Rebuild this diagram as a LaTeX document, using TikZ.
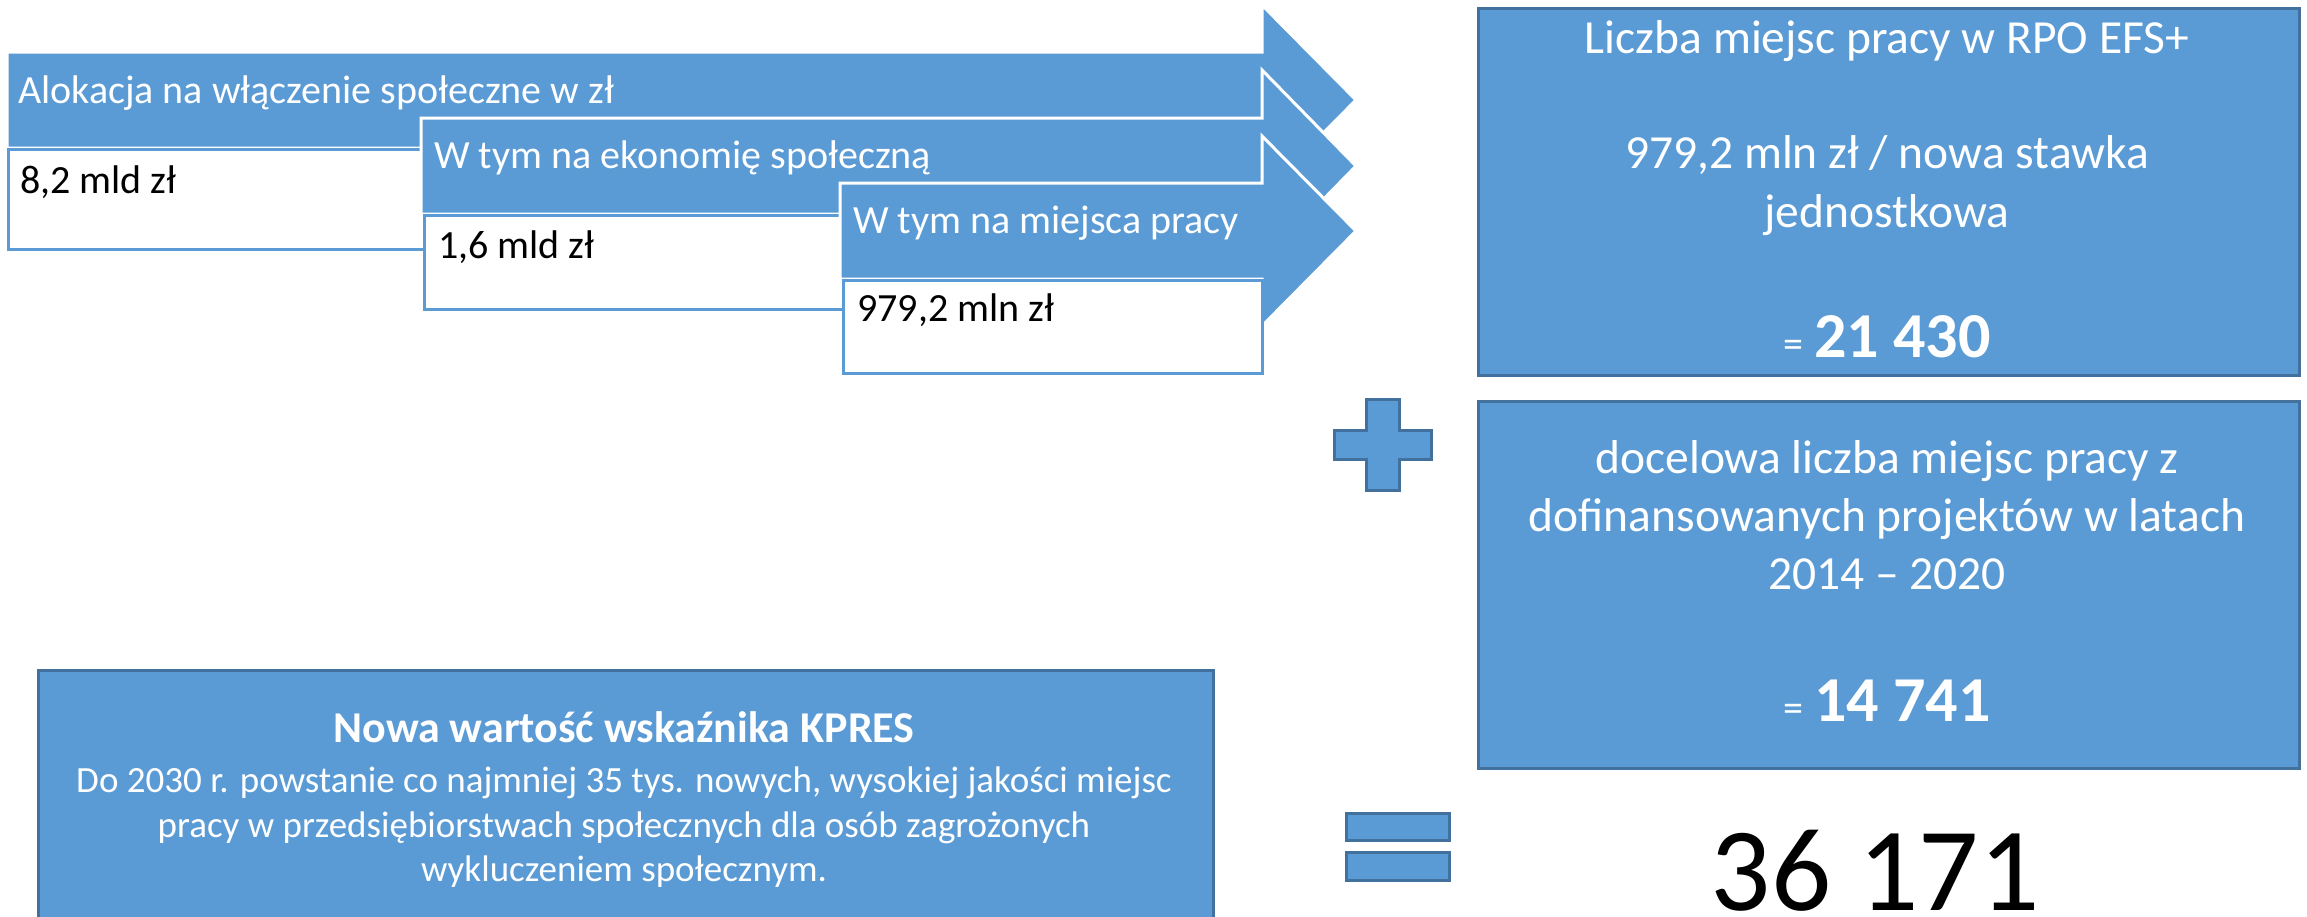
\documentclass[tikz,border=0pt]{standalone}
\usepackage{fontspec}
\setmainfont{Carlito}
\definecolor{blu}{HTML}{5B9BD5}
\definecolor{dblu}{HTML}{41719C}
\begin{document}
\begin{tikzpicture}[x=1pt,y=-1pt,
  arrowshape/.style={fill=blu, draw=white, line width=3pt, line join=miter},
  whitebox/.style={fill=white, draw=blu, line width=3pt, anchor=north west, inner sep=0pt},
  bluebox/.style={fill=blu, draw=dblu, line width=3pt, anchor=north west, inner sep=0pt},
  signshape/.style={fill=blu, draw=dblu, line width=3pt},
  atext/.style={text=white, font=\fontsize{40}{48}\selectfont, anchor=base west, inner sep=0pt},
  btext/.style={text=black, font=\fontsize{40}{48}\selectfont, anchor=base west, inner sep=0pt},
  rtext/.style={text=white, font=\fontsize{47.5}{58}\selectfont, anchor=base, inner sep=0pt},
  ltext/.style={text=white, font=\fontsize{37}{45}\selectfont, anchor=base, inner sep=0pt}
]
\useasboundingbox (0,0) rectangle (2307,916);

% stacked arrows with white value boxes
\draw[arrowshape] (7,52) -- (1262,52) -- (1262,5) -- (1356,100) -- (1262,195) -- (1262,148) -- (7,148) -- cycle;
\node[atext] (a1) at (18,103) {Alokacja na włączenie społeczne w zł};
\node[whitebox, minimum width=416pt, minimum height=100pt] (b1) at (7,148) {};
\node[btext] (v1) at (20,193) {8,2 mld zł};

\draw[arrowshape] (421,118) -- (1262,118) -- (1262,70) -- (1356,166) -- (1262,262) -- (1262,214) -- (421,214) -- cycle;
\node[atext] (a2) at (434,168) {W tym na ekonomię społeczną};
\node[whitebox, minimum width=419pt, minimum height=94pt] (b2) at (423,214) {};
\node[btext] (v2) at (438,258) {1,6 mld zł};

\draw[arrowshape] (840,183) -- (1262,183) -- (1262,136) -- (1356,231) -- (1262,326) -- (1262,279) -- (840,279) -- cycle;
\node[atext] (a3) at (853,233) {W tym na miejsca pracy};
\node[whitebox, minimum width=419pt, minimum height=93pt] (b3) at (842,279) {};
\node[btext] (v3) at (857,321) {979,2 mln zł};

% right box 1
\node[bluebox, minimum width=821pt, minimum height=367pt] (r1) at (1477,7) {};
\node[rtext] (r1a) at (1887,53) {Liczba miejsc pracy w RPO EFS+};
\node[rtext] (r1b) at (1887,168) {979,2 mln zł / nowa stawka};
\node[rtext] (r1c) at (1887,227) {jednostkowa};
\node[rtext] (r1d) at (1887,357) {{\fontsize{40}{48}\selectfont =} {\bfseries\fontsize{64}{70}\selectfont 21 430}};

% plus sign
\draw[signshape] (1366,399) -- (1399,399) -- (1399,430) -- (1431,430) -- (1431,459) -- (1399,459) -- (1399,490) -- (1366,490) -- (1366,459) -- (1334,459) -- (1334,430) -- (1366,430) -- cycle;

% right box 2
\node[bluebox, minimum width=821pt, minimum height=367pt] (r2) at (1477,400) {};
\node[rtext] (r2a) at (1887,473) {docelowa liczba miejsc pracy z};
\node[rtext] (r2b) at (1887,531) {dofinansowanych projektów w latach};
\node[rtext] (r2c) at (1887,589) {2014 – 2020};
\node[rtext] (r2d) at (1887,721) {{\fontsize{40}{48}\selectfont =} {\bfseries\fontsize{64}{70}\selectfont 14 741}};

% equals sign
\node[signshape, anchor=north west, inner sep=0pt, minimum width=103pt, minimum height=27pt] (eq1) at (1345,812) {};
\node[signshape, anchor=north west, inner sep=0pt, minimum width=103pt, minimum height=28pt] (eq2) at (1345,851) {};

% result
\node[text=black, font=\fontsize{119}{125}\selectfont, anchor=base, inner sep=0pt] (res) at (1875,910) {36 171};

% bottom box
\node[bluebox, minimum width=1175pt, minimum height=270pt] (kp) at (37,669) {};
\node[ltext, font=\bfseries\fontsize{44}{50}\selectfont] (kp1) at (624,742) {Nowa wartość wskaźnika KPRES};
\node[ltext] (kp2) at (624,792) {Do 2030 r. powstanie co najmniej 35 tys. nowych, wysokiej jakości miejsc};
\node[ltext] (kp3) at (624,837) {pracy w przedsiębiorstwach społecznych dla osób zagrożonych};
\node[ltext] (kp4) at (624,881) {wykluczeniem społecznym.};
\end{tikzpicture}
\end{document}
